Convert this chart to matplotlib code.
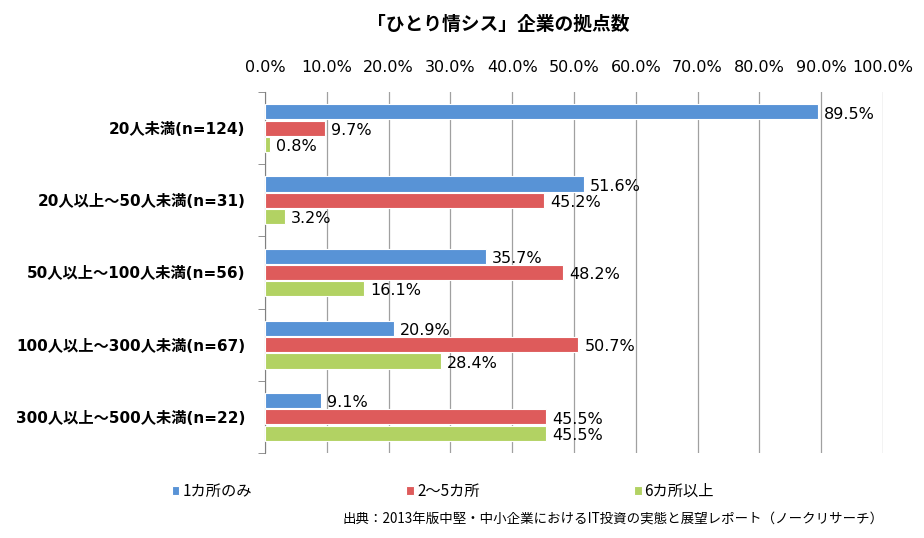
import numpy as np
import matplotlib.pyplot as plt
from matplotlib.ticker import MultipleLocator, FuncFormatter

plt.rcParams['font.family'] = ['Noto Sans CJK JP', 'DejaVu Sans']

categories = ["20人未満(n=124)", "20人以上～50人未満(n=31)", "50人以上～100人未満(n=56)",
              "100人以上～300人未満(n=67)", "300人以上～500人未満(n=22)"]
series_names = ["1カ所のみ", "2～5カ所", "6カ所以上"]
one_site = [89.5, 51.6, 35.7, 20.9, 9.1]
two_to_five = [9.7, 45.2, 48.2, 50.7, 45.5]
six_plus = [0.8, 3.2, 16.1, 28.4, 45.5]
colors = ["#5893d6", "#de5b5b", "#b2d263"]

fig = plt.figure(figsize=(9.24, 5.38), dpi=100)
ax = fig.add_axes([0.2868, 0.158, 0.6688, 0.671])

y = np.arange(len(categories))
h = 0.21
offsets = [-0.225, 0.0, 0.225]
for vals, off, c, name in zip([one_site, two_to_five, six_plus], offsets, colors, series_names):
    bars = ax.barh(y + off, vals, height=h, color=c, edgecolor="white", linewidth=0.8,
                   label=name, zorder=3)
    for b, v in zip(bars, vals):
        ax.text(b.get_width() + 1.0, b.get_y() + b.get_height() / 2 + 0.03, f"{v:.1f}%",
                va="center", ha="left", fontsize=11.5, family="DejaVu Sans", zorder=4)

ax.set_xlim(0, 100)
ax.set_ylim(len(categories) - 0.5, -0.5)
ax.xaxis.set_major_locator(MultipleLocator(10))
ax.xaxis.set_major_formatter(FuncFormatter(lambda v, p: f"{v:.1f}%"))
ax.xaxis.tick_top()
ax.tick_params(axis="x", length=0, pad=12, labelsize=11.5)
for lab in ax.get_xticklabels():
    lab.set_family("DejaVu Sans")
ax.grid(axis="x", color="#a0a0a0", linewidth=0.9, zorder=0)

ax.set_yticks(y)
ax.set_yticklabels(categories, fontsize=11, fontweight="bold",
                   family=["DejaVu Sans", "Noto Sans CJK JP"])
ax.set_yticks(np.arange(len(categories) + 1) - 0.5, minor=True)
ax.tick_params(axis="y", which="major", length=0, pad=14)
ax.tick_params(axis="y", which="minor", length=5, color="#808080", direction="out")

for s in ["top", "right", "bottom"]:
    ax.spines[s].set_visible(False)
ax.spines["left"].set_color("#808080")

fig.text(0.539, 0.955, "「ひとり情シス」企業の拠点数", ha="center", va="center",
         fontsize=13.5, fontweight="bold")

fig.legend(loc="center left", bbox_to_anchor=(0.171, 0.087), ncol=3, frameon=False,
           handlelength=0.5, handleheight=0.5, handletextpad=0.2, columnspacing=10.1,
           fontsize=11)

fig.text(0.371, 0.035, "出典：2013年版中堅・中小企業におけるIT投資の実態と展望レポート（ノークリサーチ）",
         ha="left", va="center", fontsize=9.7)

fig.savefig("out.png", dpi=100)
